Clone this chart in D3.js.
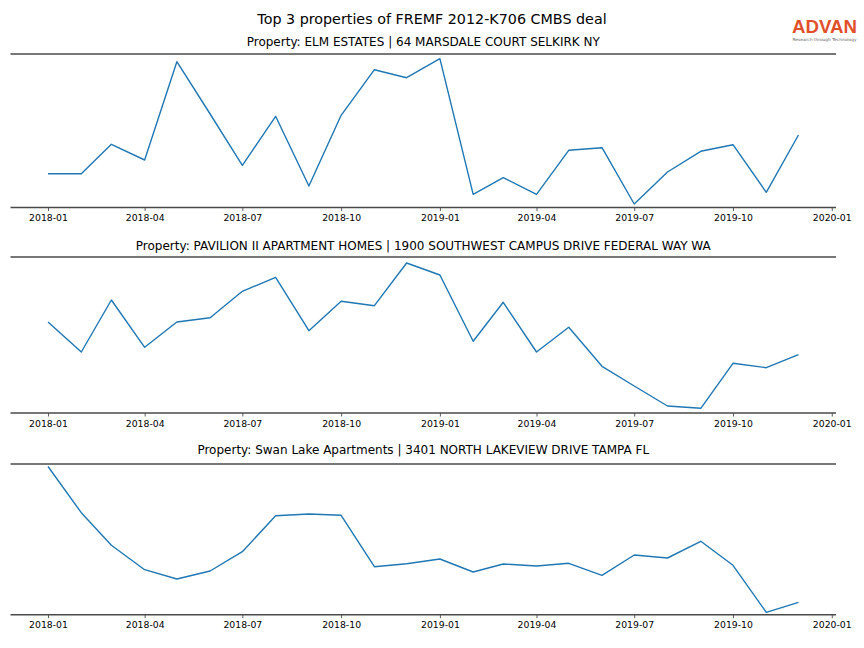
<!DOCTYPE html>
<html>
<head>
<meta charset="utf-8">
<script src="https://cdn.jsdelivr.net/npm/d3@7"></script>
<style>
  html, body { margin: 0; padding: 0; background: #fff; }
  svg { display: block; font-family: "DejaVu Sans", sans-serif; }
</style>
</head>
<body>
<svg id="chart" width="864" height="648"></svg>
<script>
// ---- data ----
const months = ["2018-01","2018-02","2018-03","2018-04","2018-05","2018-06","2018-07","2018-08","2018-09","2018-10","2018-11","2018-12",
                "2019-01","2019-02","2019-03","2019-04","2019-05","2019-06","2019-07","2019-08","2019-09","2019-10","2019-11","2019-12"];
const tickLabels = ["2018-01","2018-04","2018-07","2018-10","2019-01","2019-04","2019-07","2019-10","2020-01"];
const chartTitle = "Top 3 properties of FREMF 2012-K706 CMBS deal";
const propertyTitles = [
  "Property: ELM ESTATES | 64 MARSDALE COURT SELKIRK NY",
  "Property: PAVILION II APARTMENT HOMES | 1900 SOUTHWEST CAMPUS DRIVE FEDERAL WAY WA",
  "Property: Swan Lake Apartments | 3401 NORTH LAKEVIEW DRIVE TAMPA FL"
];
// relative activity (arbitrary units, no y axis shown)
const elmEstates = [33.8,33.8,63.2,47.5,145.8,93.5,42.2,91.2,21.5,92.2,137.8,129.8,
                    148.8,13.2,29.8,13.2,57.2,59.8,3.5,35.5,56.2,62.8,15.2,72.5];
const pavilion   = [91,61,113,65.7,91,95.3,121.7,135.7,82.3,111.7,107.3,150,
                    138,71.7,110.7,61,85.7,46.7,27,7,4.7,49.7,45.3,58.3];
const swanLake   = [148.2,102,69.4,45,35.7,43.7,63,99,100.7,99.4,48,51,
                    55.7,42.7,50.7,48.7,51.4,39.4,59.7,56.7,73.4,49.4,2.4,12.4];
const seriesList = [elmEstates, pavilion, swanLake];
const yMax = [153.5, 156, 150.7];

// ---- layout ----
const svg = d3.select("#chart");
const parse = d3.utcParse("%Y-%m");
const dates = months.map(parse);
const span = dates[dates.length-1] - dates[0];
const x = d3.scaleUtc()
  .domain([new Date(+dates[0] - 0.05*span), new Date(+dates[dates.length-1] + 0.05*span)])
  .range([10.5, 836]);

const panels = [
  {top: 54, bottom: 207.5, titleY: 46},
  {top: 257, bottom: 413, titleY: 250},
  {top: 464, bottom: 614.7, titleY: 454}
];

svg.append("text")
  .attr("x", 432).attr("y", 24)
  .attr("text-anchor", "middle")
  .attr("font-size", "14.3px")
  .attr("fill", "#000")
  .text(chartTitle);

// logo
const logo = svg.append("g");
logo.append("text")
  .attr("x", 824.5).attr("y", 33)
  .attr("text-anchor", "middle")
  .attr("font-family", "Liberation Sans, Arial, sans-serif")
  .attr("font-size", "17.5px")
  .attr("font-weight", "bold")
  .attr("fill", "#e2502b")
  .attr("textLength", 65)
  .attr("lengthAdjust", "spacingAndGlyphs")
  .text("ADVAN");
logo.append("text")
  .attr("x", 824.5).attr("y", 41)
  .attr("text-anchor", "middle")
  .attr("font-size", "4px")
  .attr("fill", "#666")
  .attr("textLength", 64)
  .attr("lengthAdjust", "spacingAndGlyphs")
  .text("Research through Technology");

const tickDates = tickLabels.map(parse);

panels.forEach((p, i) => {
  const y = d3.scaleLinear().domain([0, yMax[i]]).range([p.bottom, p.top]);
  const g = svg.append("g");

  g.append("text")
    .attr("x", (10.5 + 836) / 2).attr("y", p.titleY)
    .attr("text-anchor", "middle")
    .attr("font-size", "12px")
    .attr("fill", "#000")
    .text(propertyTitles[i]);

  // x axis
  const axis = d3.axisBottom(x)
    .tickValues(tickDates)
    .tickFormat(d3.utcFormat("%Y-%m"))
    .tickSize(3.5)
    .tickPadding(3.5);
  const ax = g.append("g")
    .attr("transform", `translate(0,${p.bottom})`)
    .call(axis);
  ax.select(".domain").remove();
  ax.selectAll(".tick line").attr("stroke", "#333").attr("stroke-width", 0.8);
  ax.selectAll(".tick text")
    .attr("font-family", "DejaVu Sans, sans-serif")
    .attr("font-size", "9.3px")
    .attr("fill", "#000");

  // spines
  [p.top, p.bottom].forEach(yy => {
    g.append("line")
      .attr("x1", 10.5).attr("x2", 836)
      .attr("y1", yy).attr("y2", yy)
      .attr("stroke", "#4a4a4a")
      .attr("stroke-width", 1.6);
  });

  const line = d3.line()
    .x((d, j) => x(dates[j]))
    .y(d => y(d));
  g.append("path")
    .datum(seriesList[i])
    .attr("fill", "none")
    .attr("stroke", "#1f77b4")
    .attr("stroke-width", 1.4)
    .attr("stroke-linejoin", "round")
    .attr("d", line);
});
</script>
</body>
</html>
